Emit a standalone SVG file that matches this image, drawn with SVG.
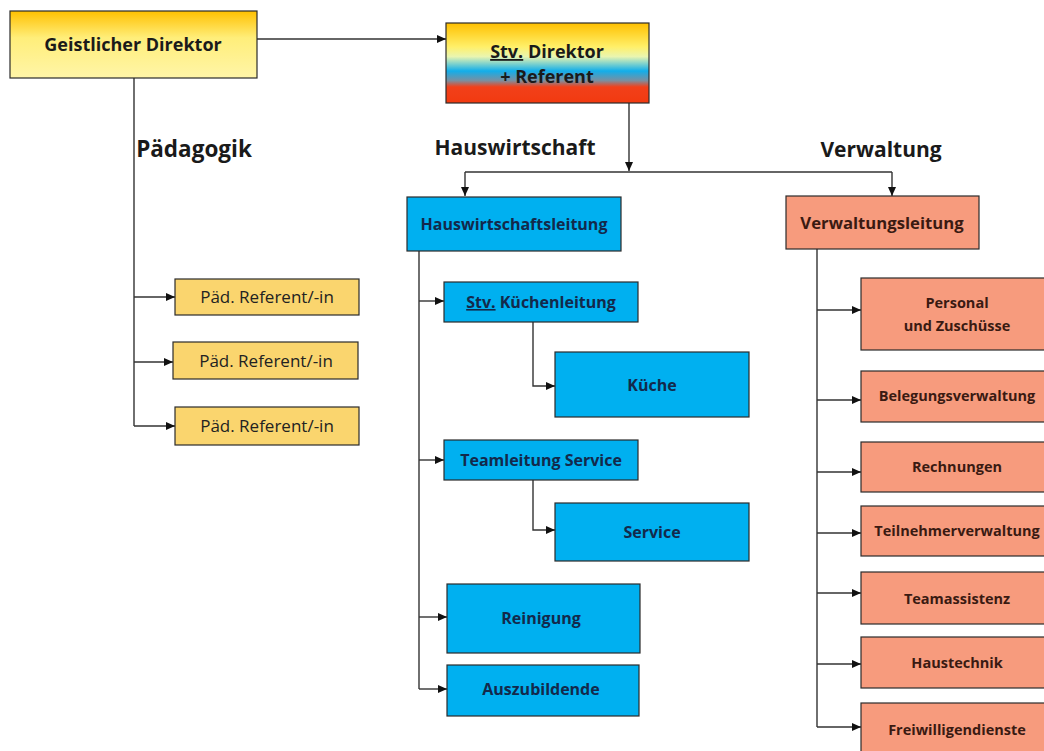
<svg xmlns="http://www.w3.org/2000/svg" width="1044" height="751" viewBox="0 0 1044 751">
<style>
.t{font-family:"Open Sans","Liberation Sans",sans-serif;font-weight:bold;text-anchor:middle}
.box{stroke:#2b2b2b;stroke-width:1.2}
.blue{fill:#00B0F0}
.sal{fill:#F79B7D}
.ped{fill:#FAD56E}
.tb{fill:#13294B;font-size:16px}
.ts{fill:#3A1A12;font-size:14.5px}
.tp{fill:#222;font-size:17px;font-weight:normal}
.h{fill:#1a1a1a;font-size:21px}
.c{fill:none;stroke:#333;stroke-width:1.4}
</style>
<defs>
<marker id="ar" markerWidth="10" markerHeight="8" refX="9" refY="4" orient="auto" markerUnits="userSpaceOnUse">
<path d="M0,0 L9,4 L0,8 z" fill="#111"/>
</marker>
<linearGradient id="gY" x1="0" y1="0" x2="0" y2="1">
<stop offset="0" stop-color="#FFC000"/>
<stop offset="0.4" stop-color="#FFEE7A"/>
<stop offset="1" stop-color="#FFF5A8"/>
</linearGradient>
<linearGradient id="gS" x1="0" y1="0" x2="0" y2="1">
<stop offset="0" stop-color="#FFC000"/>
<stop offset="0.3" stop-color="#FFF06A"/>
<stop offset="0.42" stop-color="#E9F5B0"/>
<stop offset="0.6" stop-color="#12AEEA"/>
<stop offset="0.72" stop-color="#7A8FA0"/>
<stop offset="0.8" stop-color="#F2401A"/>
<stop offset="1" stop-color="#F23A10"/>
</linearGradient>
</defs>

<g id="connectors">
<path class="c" d="M257,39 L446,39" marker-end="url(#ar)"/>
<path class="c" d="M629,103 L629,171" marker-end="url(#ar)"/>
<path class="c" d="M465,172 L892,172"/>
<path class="c" d="M465,172 L465,196" marker-end="url(#ar)"/>
<path class="c" d="M892,172 L892,196" marker-end="url(#ar)"/>
<path class="c" d="M134,78 L134,426"/>
<path class="c" d="M134,297 L175,297" marker-end="url(#ar)"/>
<path class="c" d="M134,362 L173,362" marker-end="url(#ar)"/>
<path class="c" d="M134,426 L175,426" marker-end="url(#ar)"/>
<path class="c" d="M419,251 L419,689"/>
<path class="c" d="M419,301 L444,301" marker-end="url(#ar)"/>
<path class="c" d="M419,460 L444,460" marker-end="url(#ar)"/>
<path class="c" d="M419,617 L447,617" marker-end="url(#ar)"/>
<path class="c" d="M419,689 L447,689" marker-end="url(#ar)"/>
<path class="c" d="M533,322 L533,386 L555,386" marker-end="url(#ar)"/>
<path class="c" d="M533,480 L533,530 L555,530" marker-end="url(#ar)"/>
<path class="c" d="M817,249 L817,727"/>
<path class="c" d="M817,310 L861,310" marker-end="url(#ar)"/>
<path class="c" d="M817,400 L861,400" marker-end="url(#ar)"/>
<path class="c" d="M817,472 L861,472" marker-end="url(#ar)"/>
<path class="c" d="M817,533 L861,533" marker-end="url(#ar)"/>
<path class="c" d="M817,593 L861,593" marker-end="url(#ar)"/>
<path class="c" d="M817,664 L861,664" marker-end="url(#ar)"/>
<path class="c" d="M817,727 L861,727" marker-end="url(#ar)"/>
</g>

<g id="lbl-paed"><text class="t h" x="194" y="157" style="font-size:22.5px">Pädagogik</text></g>
<g id="lbl-haus"><text class="t h" x="515" y="155">Hauswirtschaft</text></g>
<g id="lbl-verw"><text class="t h" x="881" y="157">Verwaltung</text></g>

<g id="geistlicher"><rect class="box" x="10" y="11" width="247" height="67" fill="url(#gY)"/><text class="t" x="133" y="51" font-size="18" fill="#1a1a1a">Geistlicher Direktor</text></g>
<g id="stv-direktor"><rect class="box" x="446" y="23" width="203" height="80" fill="url(#gS)"/>
<text class="t" x="547" y="58" font-size="18" fill="#1a1a1a"><tspan text-decoration="underline">Stv.</tspan> Direktor</text>
<text class="t" x="547" y="83" font-size="18" fill="#1a1a1a">+ Referent</text></g>

<g id="paed1"><rect class="box ped" x="175" y="279" width="184" height="36"/><text class="t tp" x="267" y="303">Päd. Referent/-in</text></g>
<g id="paed2"><rect class="box ped" x="173" y="342" width="185" height="37"/><text class="t tp" x="266" y="367">Päd. Referent/-in</text></g>
<g id="paed3"><rect class="box ped" x="175" y="407" width="184" height="38"/><text class="t tp" x="267" y="432">Päd. Referent/-in</text></g>

<g id="hwl"><rect class="box blue" x="407" y="197" width="214" height="54"/><text class="t tb" x="514" y="230">Hauswirtschaftsleitung</text></g>
<g id="stv-kl"><rect class="box blue" x="444" y="282" width="194" height="40"/><text class="t tb" x="541" y="308"><tspan text-decoration="underline">Stv.</tspan> Küchenleitung</text></g>
<g id="kueche"><rect class="box blue" x="555" y="352" width="194" height="65"/><text class="t tb" x="652" y="391">Küche</text></g>
<g id="tl-service"><rect class="box blue" x="444" y="440" width="194" height="40"/><text class="t tb" x="541" y="466">Teamleitung Service</text></g>
<g id="service"><rect class="box blue" x="555" y="503" width="194" height="58"/><text class="t tb" x="652" y="538">Service</text></g>
<g id="reinigung"><rect class="box blue" x="447" y="584" width="193" height="69"/><text class="t tb" x="541" y="624">Reinigung</text></g>
<g id="azubi"><rect class="box blue" x="447" y="665" width="192" height="51"/><text class="t tb" x="541" y="695">Auszubildende</text></g>

<g id="vwl"><rect class="box sal" x="786" y="196" width="193" height="53"/><text class="t ts" x="882" y="229" style="font-size:16.7px">Verwaltungsleitung</text></g>
<g id="personal"><rect class="box sal" x="861" y="278" width="192" height="72"/><text class="t ts" x="957" y="308">Personal</text><text class="t ts" x="957" y="331">und Zuschüsse</text></g>
<g id="belegung"><rect class="box sal" x="861" y="371" width="192" height="51"/><text class="t ts" x="957" y="401">Belegungsverwaltung</text></g>
<g id="rechnungen"><rect class="box sal" x="861" y="442" width="192" height="50"/><text class="t ts" x="957" y="472">Rechnungen</text></g>
<g id="teilnehmer"><rect class="box sal" x="861" y="506" width="192" height="50"/><text class="t ts" x="957" y="536">Teilnehmerverwaltung</text></g>
<g id="teamassistenz"><rect class="box sal" x="861" y="572" width="192" height="52"/><text class="t ts" x="957" y="604">Teamassistenz</text></g>
<g id="haustechnik"><rect class="box sal" x="861" y="637" width="192" height="51"/><text class="t ts" x="957" y="668">Haustechnik</text></g>
<g id="freiwillig"><rect class="box sal" x="861" y="703" width="192" height="60"/><text class="t ts" x="957" y="735">Freiwilligendienste</text></g>
</svg>
